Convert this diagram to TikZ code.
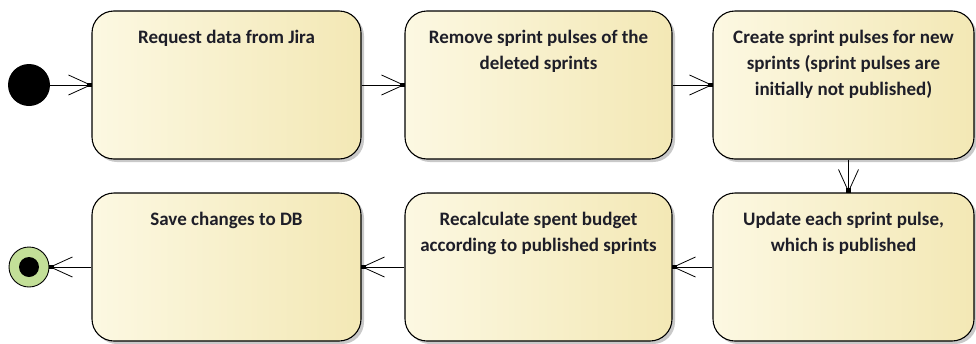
\documentclass[tikz,border=0pt]{standalone}
\usepackage{fontspec}
\setmainfont{Carlito}
\usetikzlibrary{arrows.meta,shadows,calc}

\definecolor{boxleft}{HTML}{FCF8E2}
\definecolor{boxright}{HTML}{F3E8B5}
\definecolor{finalgreen}{HTML}{C3DF98}
\definecolor{inktext}{HTML}{1E1E28}

\tikzset{
  action/.style={
    draw=black, line width=1.1pt, rounded corners=22pt,
    left color=boxleft, right color=boxright,
    minimum width=#1, minimum height=148pt, inner sep=0pt,
    drop shadow={shadow xshift=3pt, shadow yshift=-3pt, fill=black!30, opacity=0.7}
  },
  action/.default=268pt,
  caption/.style={
    anchor=north, yshift=-16pt, align=center, text=inktext,
    font=\bfseries\fontsize{19}{26}\selectfont
  },
  flow/.style={
    draw=black, line width=0.9pt,
    -{Straight Barb[length=22pt,width=20pt,line width=0.8pt]}
  },
  tipdot/.style={fill=black, minimum size=4.5pt, inner sep=0pt}
}

\begin{document}
\begin{tikzpicture}[x=1pt, y=-1pt]
  \useasboundingbox (0,0) rectangle (976,343);

  % initial and final states
  \node[circle, fill=black, minimum size=42pt, inner sep=0pt] (start) at (29,85) {};
  \node[circle, draw=black, line width=0.9pt, fill=finalgreen, minimum size=40pt, inner sep=0pt] (stop) at (29,267) {};
  \node[circle, fill=black, minimum size=20pt, inner sep=0pt] (stopdot) at (stop) {};

  % top row of actions
  \node[action=269pt, label={[caption]north:Request data from Jira}] (request) at (226.5,85) {};
  \node[action=267pt, label={[caption]north:Remove sprint pulses of the\\deleted sprints}] (remove) at (538.5,85) {};
  \node[action=261pt, label={[caption]north:Create sprint pulses for new\\sprints (sprint pulses are\\initially not published)}] (create) at (843.5,85) {};

  % bottom row of actions
  \node[action=269pt, label={[caption]north:Save changes to DB}] (save) at (226.5,267) {};
  \node[action=267pt, label={[caption]north:Recalculate spent budget\\according to published sprints}] (recalc) at (538.5,267) {};
  \node[action=261pt, label={[caption]north:Update each sprint pulse,\\which is published}] (update) at (843.5,267) {};

  % control flows
  \draw[flow] (start) -- (request);
  \node[tipdot] at ([xshift=-2pt]request.west) {};
  \draw[flow] (request) -- (remove);
  \node[tipdot] at ([xshift=-2pt]remove.west) {};
  \draw[flow] (remove) -- (create);
  \node[tipdot] at ([xshift=-2pt]create.west) {};

  \coordinate (downfrom) at ([xshift=5pt]create.south);
  \coordinate (downto) at ([xshift=5pt]update.north);
  \draw[flow] (downfrom) -- (downto);
  \node[tipdot] at ([yshift=2pt]downto) {};

  \draw[flow] (update) -- (recalc);
  \node[tipdot] at ([xshift=2pt]recalc.east) {};
  \draw[flow] (recalc) -- (save);
  \node[tipdot] at ([xshift=2pt]save.east) {};
  \draw[flow] (save) -- (stop);
  \node[tipdot] at ([xshift=2pt]stop.east) {};
\end{tikzpicture}
\end{document}
